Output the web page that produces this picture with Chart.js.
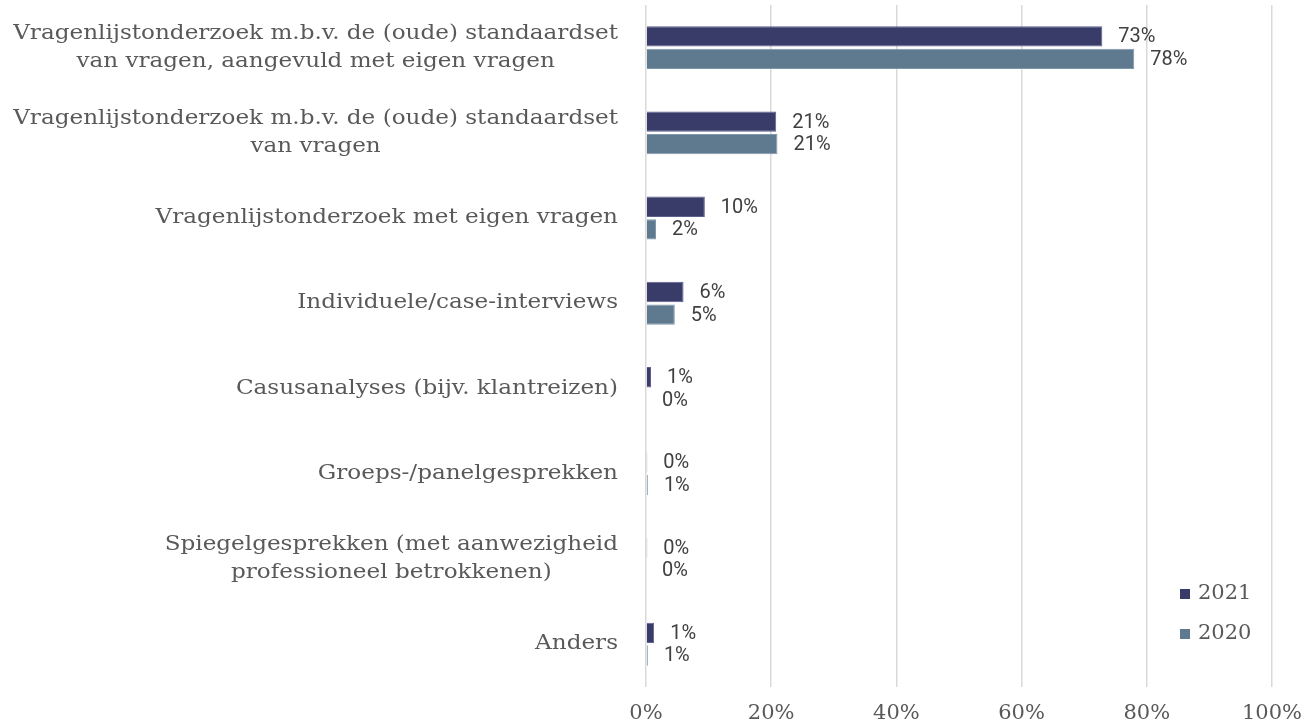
<!DOCTYPE html>
<html>
<head>
<meta charset="utf-8">
<script src="https://cdn.jsdelivr.net/npm/chart.js@4"></script>
<style>
html, body { margin: 0; padding: 0; background: #fff; overflow: hidden; }
#wrap { width: 1310px; height: 726px; position: relative; }
</style>
</head>
<body>
<div id="wrap"><canvas id="chart"></canvas></div>
<script>
// categories, top to bottom
var categories = [
    ["Vragenlijstonderzoek m.b.v. de (oude) standaardset", "van vragen, aangevuld met eigen vragen"],
    ["Vragenlijstonderzoek m.b.v. de (oude) standaardset", "van vragen"],
    "Vragenlijstonderzoek met eigen vragen",
    "Individuele/case-interviews",
    "Casusanalyses (bijv. klantreizen)",
    "Groeps-/panelgesprekken",
    ["Spiegelgesprekken (met aanwezigheid", "professioneel betrokkenen)"],
    "Anders"
];

// bar lengths (percent)
var values2021 = [72.9, 20.8, 9.4, 6.0, 0.8, 0.2, 0.2, 1.3];
var values2020 = [78.0, 21.0, 1.6, 4.6, 0, 0.3, 0, 0.3];

// value labels as printed next to the bars
var labels2021 = ["73%", "21%", "10%", "6%", "1%", "0%", "0%", "1%"];
var labels2020 = ["78%", "21%", "2%", "5%", "0%", "1%", "0%", "1%"];

var seriesNames = ["2021", "2020"];
var seriesColors = ["#393b68", "#5f7a8e"];
var seriesBorders = ["#5d6090", "#7f98aa"];

var serif = "'DejaVu Serif', serif";
var textGrey = "#595959";

// y labels: each multi-line label centred on its widest line, block right-aligned
// (drawn a little wider than DejaVu Serif to match the wide slab face of the original)
var yLabelPlugin = {
    id: 'yLabels',
    afterDraw: function(chart) {
        var ctx = chart.ctx;
        var ys = chart.scales.y;
        var right = chart.chartArea.left - 28;
        var lh = 28;
        var sx = 1.155;
        ctx.save();
        ctx.font = "20px " + serif;
        ctx.fillStyle = textGrey;
        ctx.textAlign = "center";
        ctx.textBaseline = "middle";
        categories.forEach(function(cat, i) {
            var lines = Array.isArray(cat) ? cat : [cat];
            var maxW = 0;
            lines.forEach(function(l) { maxW = Math.max(maxW, ctx.measureText(l).width * sx); });
            var cx = right - maxW / 2;
            var y0 = ys.getPixelForValue(i) - (lines.length - 1) * lh / 2;
            lines.forEach(function(l, j) {
                ctx.save();
                ctx.translate(cx, y0 + j * lh);
                ctx.scale(sx, 1);
                ctx.fillText(l, 0, 0);
                ctx.restore();
            });
        });
        ctx.restore();
    }
};

// value labels next to bars
var valueLabelPlugin = {
    id: 'valueLabels',
    afterDatasetsDraw: function(chart) {
        var ctx = chart.ctx;
        var texts = [labels2021, labels2020];
        ctx.save();
        ctx.font = "20px Roboto";
        ctx.fillStyle = "#404040";
        ctx.textAlign = "left";
        ctx.textBaseline = "middle";
        chart.data.datasets.forEach(function(ds, d) {
            chart.getDatasetMeta(d).data.forEach(function(bar, i) {
                ctx.fillText(texts[d][i], bar.x + 16, bar.y + 1);
            });
        });
        ctx.restore();
    }
};

// legend in the lower right corner of the plot
var legendPlugin = {
    id: 'cornerLegend',
    afterDraw: function(chart) {
        var ctx = chart.ctx;
        ctx.save();
        ctx.font = "21px " + serif;
        ctx.textBaseline = "middle";
        ctx.textAlign = "left";
        seriesNames.forEach(function(name, i) {
            var y = 594 + i * 40;
            ctx.fillStyle = seriesColors[i];
            ctx.fillRect(1180, y - 5, 10, 10);
            ctx.fillStyle = textGrey;
            ctx.fillText(name, 1198, y);
        });
        ctx.restore();
    }
};

var config = {
    type: 'bar',
    data: {
        labels: categories,
        datasets: [{
            label: seriesNames[0],
            data: values2021,
            backgroundColor: seriesColors[0],
            borderColor: seriesBorders[0],
            borderWidth: 1,
            barPercentage: 0.9,
            categoryPercentage: 0.53
        }, {
            label: seriesNames[1],
            data: values2020,
            backgroundColor: seriesColors[1],
            borderColor: seriesBorders[1],
            borderWidth: 1,
            barPercentage: 0.9,
            categoryPercentage: 0.53
        }]
    },
    options: {
        indexAxis: 'y',
        responsive: true,
        maintainAspectRatio: false,
        animation: false,
        layout: { padding: { top: 5, bottom: -14, left: 0, right: 38 } },
        plugins: {
            legend: { display: false },
            tooltip: { enabled: false }
        },
        scales: {
            x: {
                min: 0,
                max: 100,
                ticks: {
                    stepSize: 20,
                    padding: 14,
                    color: textGrey,
                    font: { family: serif, size: 21 },
                    callback: function(v) { return v + "%"; }
                },
                grid: { color: "#d9d9d9", lineWidth: 1.5, drawTicks: false },
                border: { display: false },
                afterFit: function(scale) { scale.paddingRight = 0; }
            },
            y: {
                ticks: { display: false },
                grid: { display: false },
                border: { display: false },
                afterFit: function(scale) { scale.width = 646; }
            }
        }
    },
    plugins: [yLabelPlugin, valueLabelPlugin, legendPlugin]
};

var ctx = document.getElementById("chart").getContext("2d");
window.resultChart = new Chart(ctx, config);
</script>
</body>
</html>
